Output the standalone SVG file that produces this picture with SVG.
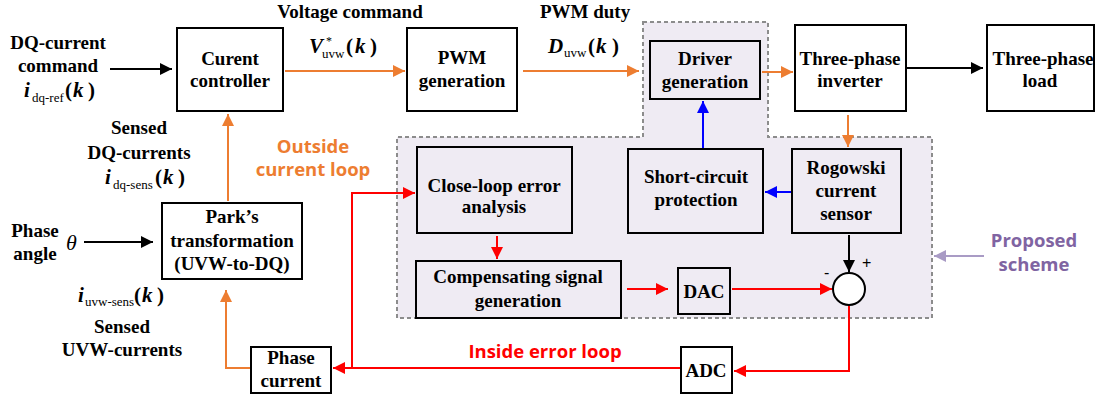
<svg xmlns="http://www.w3.org/2000/svg" width="1098" height="397" viewBox="0 0 1098 397">
<defs>
<style>
.box{fill:#ffffff;stroke:#000;stroke-width:2}
.ibox{fill:#efebf3;stroke:#000;stroke-width:2}
.t{font-family:"Liberation Serif","Times New Roman",serif;font-weight:bold;font-size:19px;fill:#000;text-anchor:middle}
.m{font-family:"Liberation Serif","Times New Roman",serif;font-weight:bold;font-style:italic;font-size:21px;fill:#000}
.p{font-family:"Liberation Serif","Times New Roman",serif;font-weight:bold;font-size:21px;fill:#000}
.s{font-family:"Liberation Serif","Times New Roman",serif;font-size:13px;fill:#000}
.sans{font-family:"Open Sans","Noto Sans","Liberation Sans",sans-serif;font-weight:bold;font-size:18.5px;text-anchor:middle}
.k{fill:none;stroke:#000;stroke-width:2}
.o{fill:none;stroke:#ED7D31;stroke-width:2}
.r{fill:none;stroke:#FF0000;stroke-width:2}
.b{fill:none;stroke:#0000FF;stroke-width:2}
</style>
<marker id="ak" markerUnits="userSpaceOnUse" markerWidth="12" markerHeight="12" refX="12" refY="6" orient="auto"><path d="M0,0 L12,6 L0,12 z" fill="#000"/></marker>
<marker id="ao" markerUnits="userSpaceOnUse" markerWidth="12" markerHeight="12" refX="12" refY="6" orient="auto"><path d="M0,0 L12,6 L0,12 z" fill="#ED7D31"/></marker>
<marker id="ar" markerUnits="userSpaceOnUse" markerWidth="12" markerHeight="12" refX="12" refY="6" orient="auto"><path d="M0,0 L12,6 L0,12 z" fill="#FF0000"/></marker>
<marker id="ab" markerUnits="userSpaceOnUse" markerWidth="12" markerHeight="12" refX="12" refY="6" orient="auto"><path d="M0,0 L12,6 L0,12 z" fill="#0000FF"/></marker>
<marker id="ap" markerUnits="userSpaceOnUse" markerWidth="12" markerHeight="12" refX="12" refY="6" orient="auto"><path d="M0,0 L12,6 L0,12 z" fill="#A99BC5"/></marker>
</defs>
<rect width="1098" height="397" fill="#fff"/>

<g id="proposed-region">
<path d="M643,22 L768,22 L768,137 L932,137 L932,318 L397,318 L397,137 L643,137 Z" fill="#efebf3" stroke="#8c8c8c" stroke-width="2" stroke-dasharray="4,3"/>
</g>

<g id="connectors">
<path class="k" d="M110,69 L172,69" marker-end="url(#ak)"/>
<path class="o" d="M285,71 L405,71" marker-end="url(#ao)"/>
<path class="o" d="M523,71 L639,71" marker-end="url(#ao)"/>
<path class="o" d="M762,72 L793,72" marker-end="url(#ao)"/>
<path class="k" d="M906,68 L983,68" marker-end="url(#ak)"/>
<path class="o" d="M848,115 L848,147" marker-end="url(#ao)"/>
<path class="b" d="M792,192 L765,192" marker-end="url(#ab)"/>
<path class="b" d="M703,149 L703,101" marker-end="url(#ab)"/>
<path class="r" d="M497,236 L497,259" marker-end="url(#ar)"/>
<path class="r" d="M627,289 L668,289" marker-end="url(#ar)"/>
<path class="r" d="M732,289 L832,289" marker-end="url(#ar)"/>
<path class="k" d="M849,235 L849,272" marker-end="url(#ak)"/>
<path class="r" d="M849,305 L849,371 L734,371" marker-end="url(#ar)"/>
<path class="r" d="M681,368 L333,368" marker-end="url(#ar)"/>
<path class="r" d="M352,368 L352,193 L415,193" marker-end="url(#ar)"/>
<path class="o" d="M251,368 L226,368 L226,290" marker-end="url(#ao)"/>
<path class="o" d="M228,201 L228,114" marker-end="url(#ao)"/>
<path class="k" d="M84,242 L153,242" marker-end="url(#ak)"/>
<path d="M984,256 L934,256" fill="none" stroke="#A99BC5" stroke-width="2" marker-end="url(#ap)"/>
</g>

<g id="current-controller">
<rect class="box" x="177" y="28" width="106" height="83"/>
<text class="t" x="230" y="65">Curent</text>
<text class="t" x="230" y="87">controller</text>
</g>
<g id="pwm-generation">
<rect class="box" x="407" y="28" width="110" height="83"/>
<text class="t" x="462" y="64">PWM</text>
<text class="t" x="462" y="87">generation</text>
</g>
<g id="driver-generation">
<rect class="ibox" x="650" y="41" width="110" height="58"/>
<text class="t" x="705" y="65">Driver</text>
<text class="t" x="705" y="88">generation</text>
</g>
<g id="three-phase-inverter">
<rect class="box" x="795" y="25" width="111" height="86"/>
<text class="t" x="850" y="65">Three-phase</text>
<text class="t" x="850" y="87">inverter</text>
</g>
<g id="three-phase-load">
<rect class="box" x="987" y="25" width="107" height="86"/>
<text class="t" x="1043" y="65">Three-phase</text>
<text class="t" x="1040" y="87">load</text>
</g>
<g id="rogowski">
<rect class="ibox" x="792" y="149" width="109" height="84"/>
<text class="t" x="846" y="174">Rogowski</text>
<text class="t" x="846" y="197">current</text>
<text class="t" x="846" y="220">sensor</text>
</g>
<g id="short-circuit">
<rect class="ibox" x="628" y="149" width="135" height="84"/>
<text class="t" x="696" y="183">Short-circuit</text>
<text class="t" x="696" y="206">protection</text>
</g>
<g id="close-loop">
<rect class="ibox" x="417" y="147" width="155" height="86"/>
<text class="t" x="494" y="192">Close-loop error</text>
<text class="t" x="494" y="213">analysis</text>
</g>
<g id="compensating">
<rect class="ibox" x="416" y="261" width="205" height="57"/>
<text class="t" x="518" y="283">Compensating signal</text>
<text class="t" x="518" y="307">generation</text>
</g>
<g id="dac">
<rect class="ibox" x="678" y="268" width="52" height="46"/>
<text class="t" x="704" y="298">DAC</text>
</g>
<g id="sum">
<circle cx="849" cy="289" r="16" fill="#fff" stroke="#000" stroke-width="2"/>
<text x="862" y="268" font-family="Liberation Sans,sans-serif" font-size="16" fill="#000">+</text>
<text x="824" y="278" font-family="Liberation Sans,sans-serif" font-size="16" fill="#000">-</text>
</g>
<g id="adc">
<rect class="box" x="681" y="347" width="51" height="46"/>
<text class="t" x="706" y="377">ADC</text>
</g>
<g id="phase-current">
<rect class="box" x="251" y="347" width="80" height="46"/>
<text class="t" x="291" y="364">Phase</text>
<text class="t" x="291" y="387">current</text>
</g>
<g id="parks">
<rect class="box" x="162" y="203" width="140" height="76"/>
<text class="t" x="232" y="223">Park’s</text>
<text class="t" x="232" y="247">transformation</text>
<text class="t" x="232" y="270">(UVW-to-DQ)</text>
</g>

<g id="labels">
<text class="t" x="58" y="49">DQ-current</text>
<text class="t" x="58" y="72">command</text>
<text class="m" x="24" y="97">i</text><text class="s" x="32" y="102">dq-ref</text><text class="p" x="65" y="97">(</text><text class="m" x="73" y="97">k</text><text class="p" x="88" y="97">)</text>

<text class="t" x="350" y="18">Voltage command</text>
<text class="m" x="309" y="53">V</text><text x="326" y="45" font-family="Liberation Serif,serif" font-size="12" fill="#000">*</text><text class="s" x="322" y="58">uvw</text><text class="p" x="346" y="53">(</text><text class="m" x="355" y="53">k</text><text class="p" x="370" y="53">)</text>

<text class="t" x="585" y="18">PWM duty</text>
<text class="m" x="548" y="53">D</text><text class="s" x="564" y="57">uvw</text><text class="p" x="588" y="53">(</text><text class="m" x="596" y="53">k</text><text class="p" x="612" y="53">)</text>

<text class="t" x="139" y="134">Sensed</text>
<text class="t" x="139" y="159">DQ-currents</text>
<text class="m" x="105" y="184">i</text><text class="s" x="113" y="189">dq-sens</text><text class="p" x="155" y="184">(</text><text class="m" x="163" y="184">k</text><text class="p" x="178" y="184">)</text>

<text class="sans" x="313" y="153" fill="#ED7D31">Outside</text>
<text class="sans" x="313" y="176" fill="#ED7D31">current loop</text>

<text class="t" x="35" y="237">Phase</text>
<text class="t" x="35" y="260">angle</text>
<text x="66" y="250" font-family="Liberation Serif,serif" font-style="italic" font-size="22" fill="#000">θ</text>

<text class="m" x="78" y="302">i</text><text class="s" x="85" y="306">uvw-sens</text><text class="p" x="134" y="302">(</text><text class="m" x="142" y="302">k</text><text class="p" x="157" y="302">)</text>
<text class="t" x="122" y="333">Sensed</text>
<text class="t" x="122" y="356">UVW-currents</text>

<text class="sans" x="545" y="358" fill="#FF0000">Inside error loop</text>
<text class="sans" x="1034" y="247" fill="#8064A2">Proposed</text>
<text class="sans" x="1034" y="271" fill="#8064A2">scheme</text>
</g>
</svg>
